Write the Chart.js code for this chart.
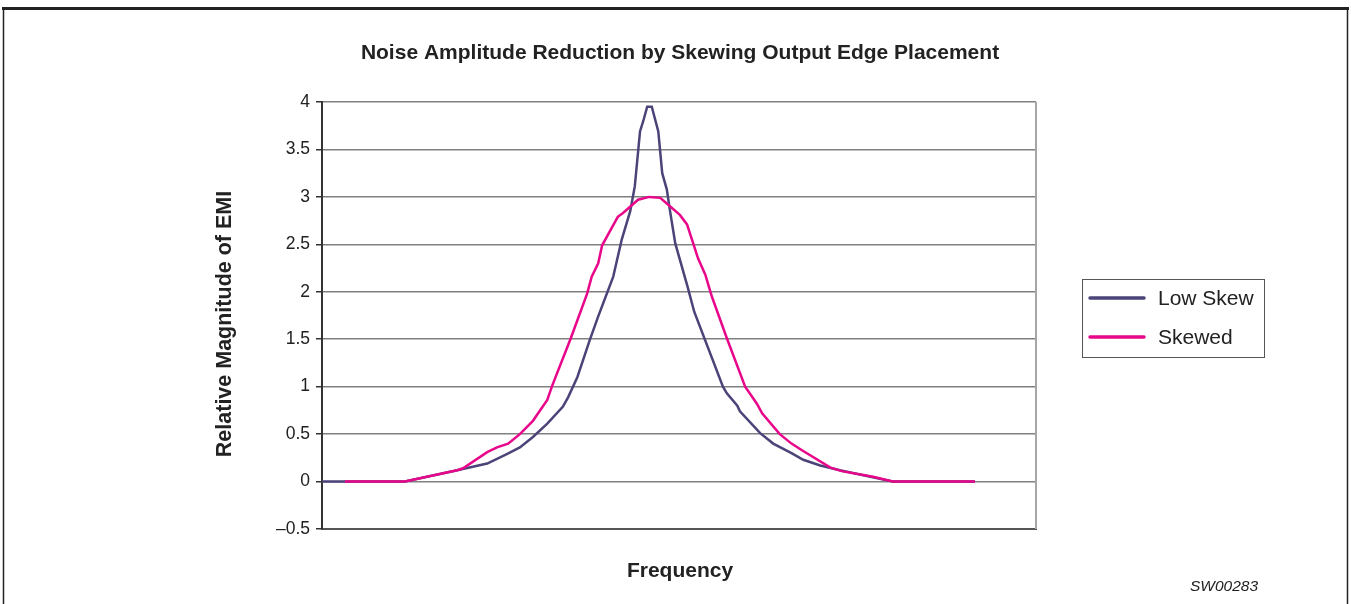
<!DOCTYPE html>
<html>
<head>
<meta charset="utf-8">
<title>Noise Amplitude Reduction by Skewing Output Edge Placement</title>
<script src="https://cdn.jsdelivr.net/npm/chart.js@4.4.1/dist/chart.umd.min.js"></script>
<style>
  html, body { margin: 0; padding: 0; background: #fff; }
  #wrap { position: relative; width: 1351px; height: 604px; }
</style>
</head>
<body>
<div id="wrap"><canvas id="emiChart" width="1351" height="604"></canvas></div>
<script>
/* ── Data (frequency in arbitrary units, 0–100 over the traces) ── */
const lowSkewFreq = [0, 12.7, 20.7, 25.3, 28.3, 30.3, 32.3, 34.5, 36.9, 37.7, 39.1, 41.0, 42.3, 44.6, 45.9, 47.2, 47.9, 48.7, 49.2, 49.8,
                     50.5, 51.5, 52.1, 52.8, 53.3, 54.1, 56.0, 57.0, 61.4, 62.0, 63.6, 64.0, 67.1, 69.1, 71.9, 73.7, 76.3, 79.3, 87.4, 100];
const lowSkew     = [0, 0, 0.12, 0.19, 0.29, 0.36, 0.47, 0.61, 0.79, 0.89, 1.10, 1.49, 1.74, 2.16, 2.55, 2.85, 3.11, 3.69, 3.80, 3.95,
                     3.95, 3.69, 3.25, 3.08, 2.85, 2.51, 2.05, 1.79, 1.0, 0.93, 0.80, 0.74, 0.51, 0.40, 0.30, 0.23, 0.17, 0.12, 0, 0];

const skewedFreq  = [3.5, 12.7, 20.7, 21.6, 25.3, 26.8, 28.5, 30.3, 32.3, 34.5, 35.2, 36.1, 38.1, 40.6, 41.3, 42.3, 42.9, 45.3, 46.1, 48.4,
                     50.1, 51.8, 52.8, 54.8, 55.9, 57.6, 58.7, 59.7, 62.0, 64.8, 66.6, 67.4, 70.1, 71.9, 73.5, 77.8, 79.6, 84.4, 87.4, 100];
const skewed      = [0, 0, 0.12, 0.14, 0.31, 0.36, 0.40, 0.50, 0.64, 0.86, 1.0, 1.16, 1.51, 1.98, 2.16, 2.30, 2.49, 2.79, 2.83, 2.97,
                     3.0, 2.99, 2.93, 2.81, 2.71, 2.35, 2.18, 1.95, 1.51, 1.0, 0.82, 0.72, 0.50, 0.40, 0.33, 0.15, 0.11, 0.05, 0, 0];

const seriesNames  = ['Low Skew', 'Skewed'];
const seriesColors = ['#4a4479', '#e8078b'];
const yTicks = [-0.5, 0, 0.5, 1, 1.5, 2, 2.5, 3, 3.5, 4];

const FONT = "'Liberation Sans', Arial, Helvetica, sans-serif";

const toPoints = (xs, ys) => xs.map((x, i) => ({ x, y: ys[i] }));

/* ── Frame, titles, legend and footnote ── */
const decorPlugin = {
  id: 'decor',
  beforeDraw(chart) {
    const ctx = chart.ctx;
    ctx.save();
    ctx.strokeStyle = '#222';
    ctx.lineWidth = 3;
    ctx.beginPath();
    ctx.moveTo(2, 8.5); ctx.lineTo(1349, 8.5);
    ctx.stroke();
    ctx.lineWidth = 1.5;
    ctx.beginPath();
    ctx.moveTo(3.5, 8); ctx.lineTo(3.5, 604);
    ctx.moveTo(1347.5, 8); ctx.lineTo(1347.5, 604);
    ctx.stroke();
    ctx.restore();
  },
  afterDraw(chart) {
    const ctx = chart.ctx;
    const area = chart.chartArea;
    ctx.save();

    // right edge of plot area
    ctx.strokeStyle = '#a6a6a6';
    ctx.lineWidth = 2;
    ctx.beginPath();
    ctx.moveTo(area.right, area.top);
    ctx.lineTo(area.right, area.bottom);
    ctx.stroke();

    ctx.fillStyle = '#222';
    ctx.textAlign = 'center';
    ctx.textBaseline = 'middle';

    ctx.font = 'bold 21px ' + FONT;
    ctx.fillText('Noise Amplitude Reduction by Skewing Output Edge Placement', 680, 53);

    ctx.font = 'bold 21px ' + FONT;
    ctx.fillText('Frequency', 680, 571);

    ctx.font = 'bold 21.5px ' + FONT;
    ctx.save();
    ctx.translate(225, 324);
    ctx.rotate(-Math.PI / 2);
    ctx.fillText('Relative Magnitude of EMI', 0, 0);
    ctx.restore();

    ctx.font = 'italic 15.5px ' + FONT;
    ctx.fillText('SW00283', 1224, 587);

    // legend
    ctx.strokeStyle = '#555';
    ctx.lineWidth = 1;
    ctx.strokeRect(1082.5, 279.5, 182, 78);
    ctx.font = '21px ' + FONT;
    ctx.textAlign = 'left';
    seriesNames.forEach((name, i) => {
      const y = 298 + i * 39;
      ctx.strokeStyle = seriesColors[i];
      ctx.lineWidth = 3.5;
      ctx.lineCap = 'round';
      ctx.beginPath();
      ctx.moveTo(1090, y);
      ctx.lineTo(1144, y);
      ctx.stroke();
      ctx.fillStyle = '#222';
      ctx.fillText(name, 1158, y + 1);
    });

    ctx.restore();
  }
};

/* ── Chart ── */
new Chart(document.getElementById('emiChart'), {
  type: 'line',
  data: {
    datasets: [
      {
        label: seriesNames[0],
        data: toPoints(lowSkewFreq, lowSkew),
        borderColor: seriesColors[0],
        borderWidth: 2.5,
        pointRadius: 0,
        tension: 0,
        fill: false,
        order: 1
      },
      {
        label: seriesNames[1],
        data: toPoints(skewedFreq, skewed),
        borderColor: seriesColors[1],
        borderWidth: 2.5,
        pointRadius: 0,
        tension: 0,
        fill: false,
        order: 0
      }
    ]
  },
  options: {
    responsive: false,
    animation: false,
    layout: { padding: { left: 0, right: 315, top: 102, bottom: 75 } },
    plugins: {
      legend: { display: false },
      title: { display: false },
      tooltip: { enabled: false }
    },
    scales: {
      x: {
        type: 'linear',
        min: 0,
        max: 109.34,
        ticks: { display: false },
        grid: { display: false },
        border: { display: true, color: '#555', width: 2 },
        afterFit: (scale) => { scale.height = 0; }
      },
      y: {
        min: -0.5,
        max: 4,
        afterBuildTicks: (scale) => { scale.ticks = yTicks.map(v => ({ value: v })); },
        ticks: {
          color: '#222',
          padding: 6,
          font: { family: FONT, size: 17.5 },
          callback: (v) => v < 0 ? '\u2013' + Math.abs(v) : String(v)
        },
        grid: {
          color: '#808080',
          lineWidth: 1.5,
          tickLength: 6,
          tickColor: '#333'
        },
        border: { display: true, color: '#333', width: 2 },
        afterFit: (scale) => { scale.width = 322; }
      }
    }
  },
  plugins: [decorPlugin]
});
</script>
</body>
</html>
